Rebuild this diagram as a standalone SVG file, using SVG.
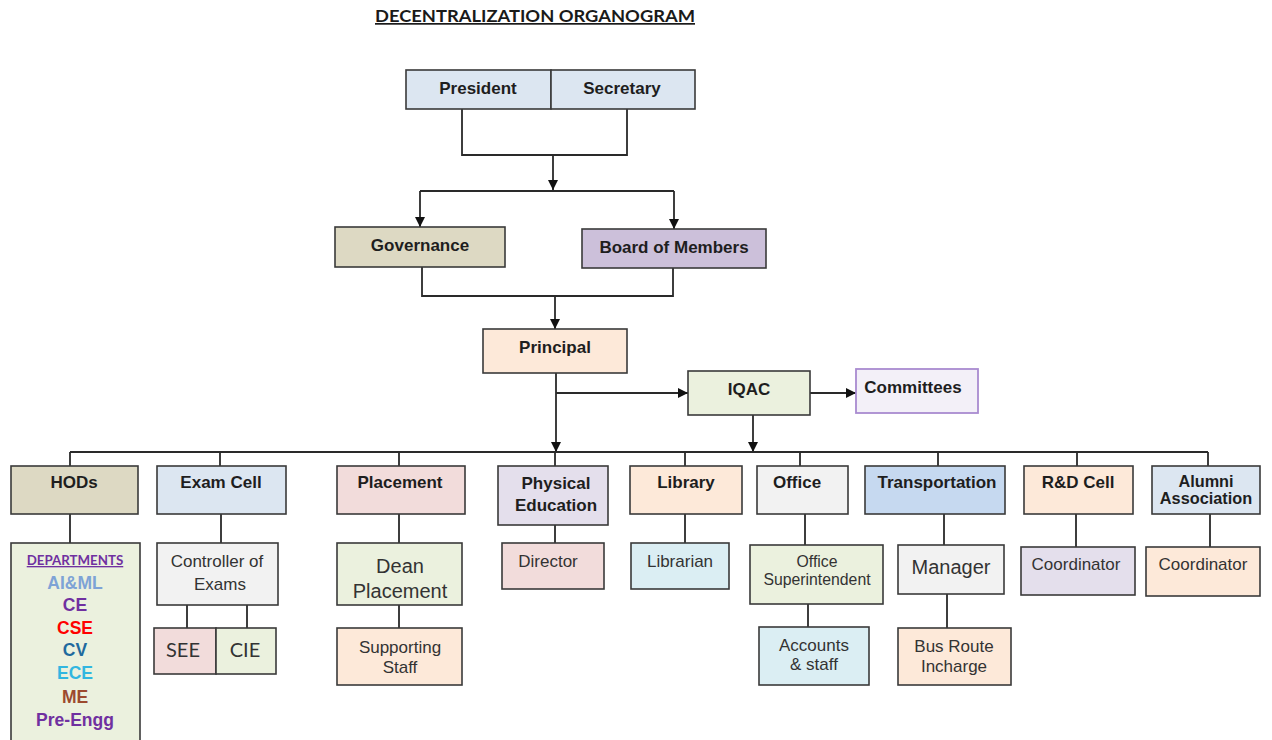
<svg xmlns="http://www.w3.org/2000/svg" width="1272" height="740" viewBox="0 0 1272 740">
<defs>
<marker id="arr" viewBox="0 0 10 10" refX="10" refY="5" markerWidth="10" markerHeight="10" markerUnits="userSpaceOnUse" orient="auto"><path d="M0,0 L10,5 L0,10 z" fill="#111"/></marker>
<style>
.b{stroke:#3a3a3a;stroke-width:1.6}
.t{font-family:"Liberation Sans",Arial,sans-serif;font-weight:bold;font-size:17px;fill:#1e1e1e;text-anchor:middle}
.r{font-family:"Liberation Sans",Arial,sans-serif;font-size:17px;fill:#333;text-anchor:middle}
.c{font-family:Lato,"Open Sans",sans-serif;text-anchor:middle}
.d{font-family:"Liberation Sans",Arial,sans-serif;font-weight:bold;font-size:17.5px;text-anchor:middle}
.ln{fill:none;stroke:#2a2a2a;stroke-width:1.8}
.big{font-size:20px}
.sm{font-size:15.8px}
.s14{font-size:16.3px}
</style>
</defs>
<rect width="1272" height="740" fill="#fff"/>
<g id="title">
<text x="535" y="22" class="c" font-size="17" font-weight="bold" fill="#1a1a1a" text-decoration="underline" textLength="320" lengthAdjust="spacingAndGlyphs">DECENTRALIZATION ORGANOGRAM</text>
</g>
<g id="connectors">
<path class="ln" d="M462 109V155H627V109"/>
<path class="ln" d="M553 155V190" marker-end="url(#arr)"/>
<path class="ln" d="M420 191H674"/>
<path class="ln" d="M420 191V227" marker-end="url(#arr)"/>
<path class="ln" d="M674 191V229" marker-end="url(#arr)"/>
<path class="ln" d="M422 267V296H673V268"/>
<path class="ln" d="M555 296V329" marker-end="url(#arr)"/>
<path class="ln" d="M556 373V452" marker-end="url(#arr)"/>
<path class="ln" d="M556 393H688" marker-end="url(#arr)"/>
<path class="ln" d="M810 393H856" marker-end="url(#arr)"/>
<path class="ln" d="M753 415V452" marker-end="url(#arr)"/>
<path class="ln" d="M70 452H1208"/>
<path class="ln" d="M70 452V466M220 452V466M399 452V466M555 452V466M685 452V466M800 452V466M938 452V466M1077 452V466M1208 452V466"/>
<path class="ln" d="M70 514V543M221 514V543M187 605V628M247 605V628M399 514V543M399 605V628M555 525V543M685 514V543M805 514V545M808 604V627M944 514V545M947 594V628M1076 514V547M1210 514V547"/>
</g>
<g id="president">
<rect class="b" x="406" y="70" width="145" height="39" fill="#dce6f1"/>
<text class="t" x="478" y="94">President</text>
</g>
<g id="secretary">
<rect class="b" x="551" y="70" width="144" height="39" fill="#dce6f1"/>
<text class="t" x="622" y="94">Secretary</text>
</g>
<g id="governance">
<rect class="b" x="335" y="227" width="170" height="40" fill="#ddd9c3"/>
<text class="t" x="420" y="251">Governance</text>
</g>
<g id="board">
<rect class="b" x="582" y="229" width="184" height="39" fill="#ccc0da"/>
<text class="t" x="674" y="253">Board of Members</text>
</g>
<g id="principal">
<rect class="b" x="483" y="329" width="144" height="44" fill="#fde9d9"/>
<text class="t" x="555" y="353">Principal</text>
</g>
<g id="iqac">
<rect class="b" x="688" y="371" width="122" height="44" fill="#ebf1de"/>
<text class="t" x="749" y="395">IQAC</text>
</g>
<g id="committees">
<rect x="856" y="369" width="122" height="44" fill="#f3f0f8" stroke="#a98bd0" stroke-width="1.8"/>
<text class="t" x="913" y="393">Committees</text>
</g>
<g id="hods">
<rect class="b" x="11" y="466" width="127" height="48" fill="#ddd9c3"/>
<text class="t" x="74" y="488">HODs</text>
</g>
<g id="departments">
<rect class="b" x="11" y="543" width="129" height="210" fill="#ebf1de"/>
<text class="c" x="75" y="565" font-size="13.3" font-weight="bold" fill="#7030a0" text-decoration="underline">DEPARTMENTS</text>
<text class="d" x="75" y="589" fill="#7ea3d6">AI&amp;ML</text>
<text class="d" x="75" y="611" fill="#7030a0">CE</text>
<text class="d" x="75" y="634" fill="#ff0000">CSE</text>
<text class="d" x="75" y="656" fill="#1f6a9e">CV</text>
<text class="d" x="75" y="679" fill="#31b6e0">ECE</text>
<text class="d" x="75" y="703" fill="#9c4a2e">ME</text>
<text class="d" x="75" y="726" fill="#7030a0">Pre-Engg</text>
</g>
<g id="examcell">
<rect class="b" x="157" y="466" width="129" height="48" fill="#dce6f1"/>
<text class="t" x="221" y="488">Exam Cell</text>
</g>
<g id="controller">
<rect class="b" x="157" y="543" width="121" height="62" fill="#f2f2f2"/>
<text class="r" x="217" y="567">Controller of</text>
<text class="r" x="220" y="590">Exams</text>
</g>
<g id="see">
<rect class="b" x="154" y="628" width="62" height="46" fill="#f2dcdb"/>
<text class="c" x="183" y="657" font-size="20" fill="#333">SEE</text>
</g>
<g id="cie">
<rect class="b" x="216" y="628" width="60" height="46" fill="#ebf1de"/>
<text class="c" x="245" y="657" font-size="20" fill="#333">CIE</text>
</g>
<g id="placement">
<rect class="b" x="337" y="466" width="128" height="48" fill="#f2dcdb"/>
<text class="t" x="400" y="488">Placement</text>
</g>
<g id="dean">
<rect class="b" x="337" y="543" width="125" height="62" fill="#ebf1de"/>
<text class="r big" x="400" y="573">Dean</text>
<text class="r big" x="400" y="598">Placement</text>
</g>
<g id="supporting">
<rect class="b" x="337" y="628" width="125" height="57" fill="#fde9d9"/>
<text class="r" x="400" y="653">Supporting</text>
<text class="r" x="400" y="673">Staff</text>
</g>
<g id="physical">
<rect class="b" x="498" y="466" width="110" height="59" fill="#e4dfec"/>
<text class="t" x="556" y="489">Physical</text>
<text class="t" x="556" y="511">Education</text>
</g>
<g id="director">
<rect class="b" x="502" y="543" width="102" height="46" fill="#f2dcdb"/>
<text class="r" x="548" y="567">Director</text>
</g>
<g id="library">
<rect class="b" x="630" y="466" width="112" height="48" fill="#fde9d9"/>
<text class="t" x="686" y="488">Library</text>
</g>
<g id="librarian">
<rect class="b" x="631" y="543" width="98" height="46" fill="#dbeef3"/>
<text class="r" x="680" y="567">Librarian</text>
</g>
<g id="office">
<rect class="b" x="757" y="466" width="91" height="48" fill="#f2f2f2"/>
<text class="t" x="797" y="488">Office</text>
</g>
<g id="superintendent">
<rect class="b" x="750" y="545" width="133" height="59" fill="#ebf1de"/>
<text class="r sm" x="817" y="567">Office</text>
<text class="r sm" x="817" y="585">Superintendent</text>
</g>
<g id="accounts">
<rect class="b" x="759" y="627" width="110" height="58" fill="#dbeef3"/>
<text class="r" x="814" y="651">Accounts</text>
<text class="r" x="814" y="670">&amp; staff</text>
</g>
<g id="transportation">
<rect class="b" x="865" y="466" width="140" height="48" fill="#c6d9f0"/>
<text class="t" x="937" y="488">Transportation</text>
</g>
<g id="manager">
<rect class="b" x="898" y="545" width="106" height="49" fill="#f2f2f2"/>
<text class="r big" x="951" y="574">Manager</text>
</g>
<g id="busroute">
<rect class="b" x="898" y="628" width="113" height="57" fill="#fde9d9"/>
<text class="r" x="954" y="652">Bus Route</text>
<text class="r" x="954" y="672">Incharge</text>
</g>
<g id="rdcell">
<rect class="b" x="1024" y="466" width="109" height="48" fill="#fde9d9"/>
<text class="t" x="1078" y="488">R&amp;D Cell</text>
</g>
<g id="rdcoord">
<rect class="b" x="1021" y="547" width="114" height="48" fill="#e4dfec"/>
<text class="r" x="1076" y="570">Coordinator</text>
</g>
<g id="alumni">
<rect class="b" x="1152" y="466" width="108" height="48" fill="#dce6f1"/>
<text class="t s14" x="1206" y="487">Alumni</text>
<text class="t s14" x="1206" y="504">Association</text>
</g>
<g id="alumnicoord">
<rect class="b" x="1146" y="547" width="114" height="49" fill="#fde9d9"/>
<text class="r" x="1203" y="570">Coordinator</text>
</g>
</svg>
